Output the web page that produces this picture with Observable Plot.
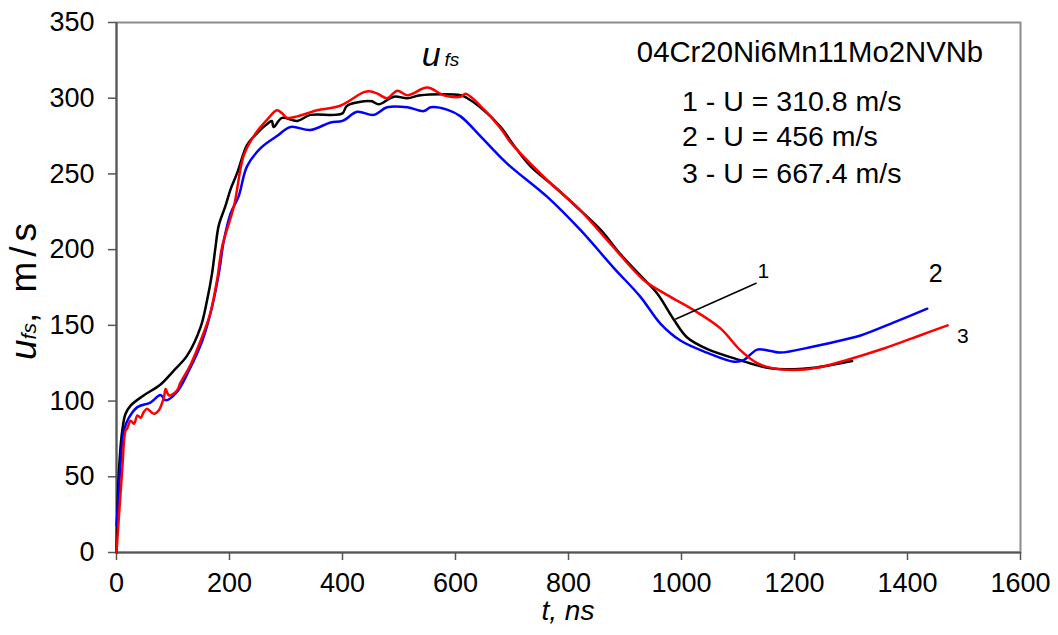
<!DOCTYPE html>
<html><head><meta charset="utf-8">
<script src="https://cdn.jsdelivr.net/npm/d3@7"></script>
<script src="https://cdn.jsdelivr.net/npm/@observablehq/plot@0.6"></script>
<style>html,body{margin:0;padding:0;background:#fff;} svg{display:block;}</style>
</head><body><div id="chart"></div>
<script>
// Series 1 (black)
const t1 = [0,4,10,16,25,48,78,101,125,149,160,169,175,181,193,202,214,231,249,270,275,278,293,320,343,385,400,408,438,452,464,491,515,538,609,621,644,680,703,733,774,815,857,892,927,957,986,1010,1045,1104,1152,1199,1234,1302];
const u1 = [0,52,80,91.6,97,103.7,111,120,130,149,166,184,201,216,229,240,251,269,277,284,285,281,287,285,289,289,290,295,298,298,296,301,300,302,302,300,294,281,269,255,242,228,213,197,183,171,154,142,134.5,127,122,121,122,126.5];
// Series 2 (blue)
const t2 = [0,4,7,13,22,37,60,78,87,107,128,152,169,181,190,202,216,231,255,284,308,343,379,400,426,455,479,515,544,556,585,609,644,691,762,821,880,927,963,998,1045,1093,1110,1134,1158,1175,1234,1293,1317,1376,1435];
const u2 = [18,40,58,80.5,89,96,99,104,100.5,106,120,140,162,184,206,224,235,255,267,275,281,279,284,285,291,289,294,294,291.5,294,292.5,288,275,257,235,213,188,169,151,140,132,126,127,134,133,132,136,141,143.3,152,161];
// Series 3 (red)
const t3 = [0,10,16,19,25,31,37,43,48,54,66,75,84,87,93,107,113,131,149,166,178,187,208,225,243,267,284,293,302,320,355,396,438,450,462,479,497,515,550,579,609,618,644,680,697,762,821,874,933,975,1022,1069,1104,1134,1163,1199,1240,1287,1358,1423,1471];
const u3 = [0,54,80.5,82,87,85,90.5,89,92.6,95,91.6,94,102.6,108,103.7,107,112,124,140,158,180,202,229,262,275,286,292,290,287,288,292,295,304,304.5,303,300,305,302,307,302,301,303,295,280,271,246,226,204,180,170,160,148,133.6,125,121.6,120.5,122,126.5,134.7,143.5,150];

const seriesNames = ["1","2","3"];
const seriesColors = ["#000000","#0000ff","#ff0000"];
const xTicks = [0,200,400,600,800,1000,1200,1400,1600];
const yTicks = [0,50,100,150,200,250,300,350];
const alloy = "04Cr20Ni6Mn11Mo2NVNb";
const legendLines = ["1 - U = 310.8 m/s","2 - U = 456 m/s","3 - U = 667.4 m/s"];

const rows = [];
[[t1,u1],[t2,u2],[t3,u3]].forEach(([t,u],i)=>t.forEach((x,j)=>rows.push({t:x,u:u[j],s:seriesNames[i]})));

const font = "'Liberation Sans', Arial, Helvetica, sans-serif";

const plot = Plot.plot({
  width:1058, height:635,
  marginLeft:116, marginRight:38, marginTop:22, marginBottom:83,
  style:{fontFamily:font, background:"#fff", color:"#000", overflow:"visible"},
  x:{domain:[0,1600]},
  y:{domain:[0,350]},
  color:{domain:seriesNames, range:seriesColors},
  marks:[
    Plot.frame({stroke:"#8c8c8c", strokeWidth:2}),
    Plot.axisY(yTicks,{tickSize:8, tickPadding:14, fontSize:27, label:null, tickFormat:d=>String(d), stroke:"#555", strokeWidth:1.5, fill:"#000"}),
    Plot.axisX(xTicks,{tickSize:8, tickPadding:12, fontSize:27, label:null, tickFormat:d=>String(d), stroke:"#555", strokeWidth:1.5, fill:"#000"}),
    Plot.ruleX([0],{stroke:"#555", strokeWidth:2}),
    Plot.ruleY([0],{stroke:"#555", strokeWidth:2}),
    Plot.line(rows,{x:"t", y:"u", z:"s", stroke:"s", strokeWidth:2.5, curve:"catmull-rom"}),
    Plot.link([{x1:1133,y1:178,x2:989,y2:154}],{x1:"x1",y1:"y1",x2:"x2",y2:"y2",stroke:"#000",strokeWidth:1.5}),
    Plot.text([alloy],{x:921,y:330,text:d=>d,textAnchor:"start",fontSize:29.3,fill:"#000"}),
    Plot.text(legendLines,{x:1001,y:(d,i)=>[297.8,274.3,250][i],text:d=>d,textAnchor:"start",fontSize:28.5,fill:"#000"}),
    Plot.text([seriesNames[0]],{x:1145,y:186,text:d=>d,fontSize:21,fill:"#000"}),
    Plot.text([seriesNames[1]],{x:1450,y:184,text:d=>d,fontSize:25,fill:"#000"}),
    Plot.text([seriesNames[2]],{x:1498,y:143,text:d=>d,fontSize:21,fill:"#000"})
  ]
});

const svg = d3.select(plot);
const sx = plot.scale("x"), sy = plot.scale("y");

// u_fs annotation
const ann = svg.append("text")
  .attr("x", sx.apply(541)).attr("y", sy.apply(321))
  .attr("text-anchor","start")
  .attr("font-family", font).attr("font-style","italic").attr("fill","#000");
ann.append("tspan").attr("font-size",34).text("u");
ann.append("tspan").attr("font-size",19).attr("dx",4).text("fs");

// y axis label
const yl = svg.append("text")
  .attr("transform","translate(36,360) rotate(-90)")
  .attr("text-anchor","start")
  .attr("font-family", font).attr("fill","#000");
yl.append("tspan").attr("font-size",37).attr("font-style","italic").text("u");
yl.append("tspan").attr("font-size",21).attr("font-style","italic").text("fs");
yl.append("tspan").attr("font-size",37).attr("letter-spacing",5).text(", m/s");

// x axis label
svg.append("text")
  .attr("x", sx.apply(800)).attr("y", 620)
  .attr("text-anchor","middle")
  .attr("font-family", font).attr("font-size",28).attr("font-style","italic").attr("fill","#000")
  .text("t, ns");

document.getElementById("chart").appendChild(plot);
</script>
</body></html>
